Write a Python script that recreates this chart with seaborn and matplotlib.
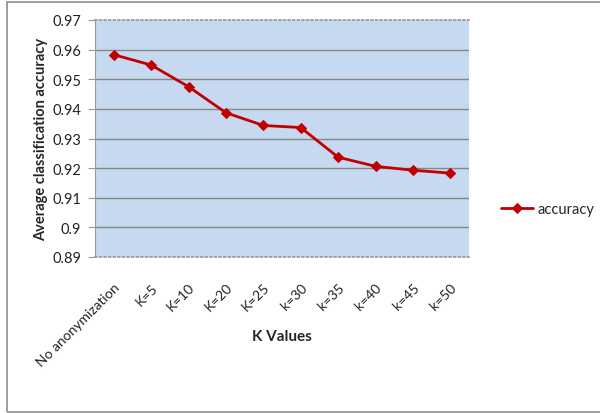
import matplotlib
matplotlib.use("Agg")
import matplotlib.pyplot as plt
import seaborn as sns
import pandas as pd
from matplotlib.patches import Rectangle

categories = ["No anonymization", "K=5", "K=10", "K=20", "K=25", "k=30", "k=35", "k=40", "k=45", "k=50"]
accuracy = [0.9583, 0.9548, 0.9475, 0.9387, 0.9344, 0.9337, 0.9237, 0.9206, 0.9193, 0.9183]
y_ticks = [0.89, 0.90, 0.91, 0.92, 0.93, 0.94, 0.95, 0.96, 0.97]
y_tick_labels = ["0.89", "0.9", "0.91", "0.92", "0.93", "0.94", "0.95", "0.96", "0.97"]
series_name = "accuracy"

df = pd.DataFrame({"K": categories, "acc": accuracy, "series": series_name})

sns.set_theme(style="white")
plt.rcParams["font.family"] = ["Lato", "DejaVu Sans"]

fig = plt.figure(figsize=(6.0, 4.14), dpi=100)
ax = fig.add_axes([95/600, 1-258/414, (469-95)/600, (258-21)/414])
ax.set_facecolor("#C6D9F0")

sns.lineplot(data=df, x="K", y="acc", hue="series", palette=["#C00000"], sort=False,
             marker="D", markersize=5.5, linewidth=2.0, markeredgecolor="#C00000",
             ax=ax, legend=True)

ax.set_xlim(-0.5, len(categories) - 0.5)
ax.set_ylim(0.89, 0.97)
ax.set_yticks(y_ticks)
ax.set_yticklabels(y_tick_labels, fontsize=10.5, color="#222222")
ax.set_xticks(range(len(categories)))
ax.set_xticklabels(categories, rotation=45, ha="right", rotation_mode="anchor", fontsize=10, color="#222222")
for y in y_ticks[1:-1]:
    ax.axhline(y, color="#868686", linewidth=1.0, zorder=0.5)

ax.spines["right"].set_visible(False)
ax.spines["top"].set_linestyle(":")
ax.spines["top"].set_color("#9a9a9a")
ax.spines["bottom"].set_linestyle(":")
ax.spines["bottom"].set_color("#9a9a9a")
ax.spines["left"].set_color("#9a9a9a")
ax.spines["left"].set_linewidth(0.8)
ax.tick_params(axis="y", which="major", left=True, length=5, width=0.8, color="#9a9a9a", pad=5)
ax.tick_params(axis="x", which="major", bottom=False, pad=11)

ax.set_ylabel("Average classification accuracy", fontsize=10.5, fontweight="bold", labelpad=3)
ax.set_xlabel("K Values", fontsize=11, fontweight="bold")
ax.xaxis.set_label_coords(0.5, (258-337)/237)
ax.xaxis.label.set_va("center")

handles, labels = ax.get_legend_handles_labels()
ax.get_legend().remove()
fig.legend(handles, labels, loc="center left", bbox_to_anchor=(488/600, 1-210/414),
           frameon=False, fontsize=10.5, handlelength=2.2, handletextpad=0.3)

fig.patches.append(Rectangle((7/600, 1/414), 1.2, 1-4/414, transform=fig.transFigure,
                             fill=False, edgecolor="#8c8c8c", linewidth=1.2))

fig.savefig("out.png", dpi=100, facecolor="white")
